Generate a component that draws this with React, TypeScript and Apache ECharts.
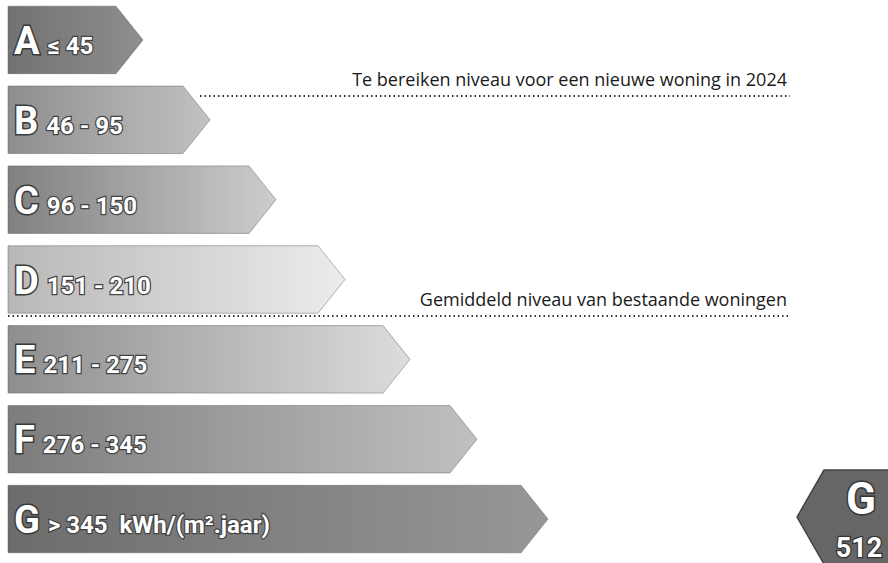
import React, { useEffect, useRef } from 'react';
import * as echarts from 'echarts';

// ---- data ----
const classes = ['A', 'B', 'C', 'D', 'E', 'F', 'G'];
const ranges = ['≤ 45', '46 - 95', '96 - 150', '151 - 210', '211 - 275', '276 - 345', '> 345  kWh/(m².jaar)'];
const arrowLengths = [135, 202, 268, 337, 402, 469, 540];
const currentClass = 'G';
const currentValue = 512;
const noteNew = 'Te bereiken niveau voor een nieuwe woning in 2024';
const noteAvg = 'Gemiddeld niveau van bestaande woningen';

// ---- styles ----
const shades: string[][] = [
  ['#727272', '#8e8e8e'],
  ['#8e8e8e', '#c2c2c2'],
  ['#808080', '#cdcdcd'],
  ['#b8b8b8', '#ececec'],
  ['#8e8e8e', '#dcdcdc'],
  ['#7c7c7c', '#c0c0c0'],
  ['#6c6c6c', '#979797'],
];
const condensed = "Roboto, 'Liberation Sans', sans-serif";
const noteFont = "'Open Sans', 'Noto Sans', sans-serif";

function measure(text: string, font: string): number {
  const c = document.createElement('canvas').getContext('2d');
  if (!c) return text.length * 10;
  c.font = font;
  return c.measureText(text).width;
}

export default function App() {
  const ref = useRef<HTMLDivElement>(null);
  useEffect(() => {
    if (!ref.current) return;
    const chart = echarts.init(ref.current, undefined, { renderer: 'svg' });
    const letterFont = `bold 38px ${condensed}`;
    const rangeFont = `bold 24px ${condensed}`;
    const option: any = {
      animation: false,
      backgroundColor: '#ffffff',
      grid: { left: 8, right: 0, top: -4, bottom: 4 },
      xAxis: { type: 'value', min: 0, max: 880, show: false },
      yAxis: { type: 'category', data: classes, inverse: true, show: false },
      series: [
        {
          type: 'custom',
          data: arrowLengths.map((v, i) => [v, classes[i]]),
          encode: { x: 0, y: 1 },
          renderItem: (params: any, api: any) => {
            const idx = params.dataIndex;
            const cat = api.value(1);
            const start = api.coord([0, cat]);
            const tip = api.coord([api.value(0), cat]);
            const band = api.size([0, 1])[1];
            const h = band * 0.845;
            const y0 = tip[1] - h / 2;
            const y1 = tip[1] + h / 2;
            const depth = 27;
            const pts = [
              [start[0], y0],
              [tip[0] - depth, y0],
              [tip[0], tip[1]],
              [tip[0] - depth, y1],
              [start[0], y1],
            ];
            const lw = measure(classes[idx], letterFont);
            const lx = start[0] + 6;
            return {
              type: 'group',
              children: [
                {
                  type: 'polygon',
                  shape: { points: pts },
                  style: {
                    fill: new echarts.graphic.LinearGradient(0, 0, 1, 0, [
                      { offset: 0, color: shades[idx][0] },
                      { offset: 1, color: shades[idx][1] },
                    ]),
                    stroke: 'rgba(90,90,90,0.45)',
                    lineWidth: 1,
                  },
                },
                {
                  type: 'text',
                  x: lx,
                  y: tip[1] + 1,
                  style: {
                    text: classes[idx],
                    font: letterFont,
                    fill: '#ffffff',
                    stroke: '#3a3a3a',
                    lineWidth: 3,
                    align: 'left',
                    verticalAlign: 'middle',
                  },
                },
                {
                  type: 'text',
                  x: lx + lw + 8,
                  y: tip[1] + 6,
                  style: {
                    text: ranges[idx],
                    font: rangeFont,
                    fill: '#ffffff',
                    stroke: '#444444',
                    lineWidth: 2.5,
                    align: 'left',
                    verticalAlign: 'middle',
                  },
                },
              ],
            };
          },
        },
        {
          type: 'custom',
          data: [[currentValue, currentClass]],
          encode: { x: 0, y: 1 },
          clip: false,
          renderItem: (params: any, api: any) => {
            const cy = api.coord([0, api.value(1)])[1] - 2;
            const right = params.coordSys.x + params.coordSys.width;
            const half = 47;
            const pts = [
              [right - 91, cy],
              [right - 64, cy - half],
              [right + 2, cy - half],
              [right + 2, cy + half],
              [right - 64, cy + half],
            ];
            return {
              type: 'group',
              children: [
                {
                  type: 'polygon',
                  shape: { points: pts },
                  style: { fill: '#666666', stroke: '#444', lineWidth: 1.5 },
                },
                {
                  type: 'text',
                  x: right - 27,
                  y: cy - 18,
                  style: {
                    text: currentClass,
                    font: `bold 44px ${condensed}`,
                    fill: '#ffffff',
                    stroke: '#333',
                    lineWidth: 3,
                    align: 'center',
                    verticalAlign: 'middle',
                  },
                },
                {
                  type: 'text',
                  x: right - 29,
                  y: cy + 31,
                  style: {
                    text: String(api.value(0)),
                    font: `bold 27px ${condensed}`,
                    fill: '#ffffff',
                    stroke: '#333',
                    lineWidth: 2.5,
                    align: 'center',
                    verticalAlign: 'middle',
                  },
                },
              ],
            };
          },
        },
      ],
      graphic: [
        {
          type: 'line',
          shape: { x1: 200, y1: 96, x2: 790, y2: 96 },
          style: { stroke: '#333', lineWidth: 2, lineDash: [1.5, 3] },
        },
        {
          type: 'text',
          x: 787,
          y: 88,
          style: { text: noteNew, font: `18px ${noteFont}`, fill: '#1a1a1a', align: 'right', verticalAlign: 'bottom' },
        },
        {
          type: 'line',
          shape: { x1: 8, y1: 316, x2: 790, y2: 316 },
          style: { stroke: '#333', lineWidth: 2, lineDash: [1.5, 3] },
        },
        {
          type: 'text',
          x: 787,
          y: 308,
          style: { text: noteAvg, font: `18px ${noteFont}`, fill: '#1a1a1a', align: 'right', verticalAlign: 'bottom' },
        },
      ],
    };
    chart.setOption(option);
    return () => chart.dispose();
  }, []);
  return (
    <div
      ref={ref}
      style={{ position: 'fixed', left: 0, top: 0, width: 888, height: 563, background: '#fff' }}
    />
  );
}
